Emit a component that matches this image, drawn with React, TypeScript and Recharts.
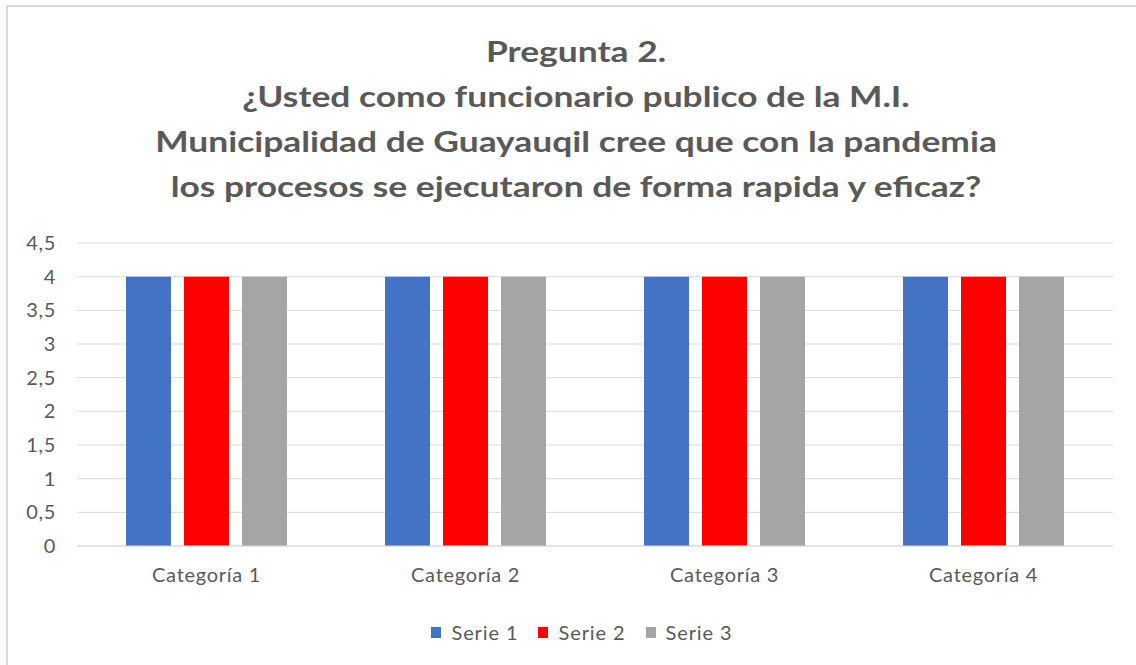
import { BarChart, Bar, XAxis, YAxis, CartesianGrid } from 'recharts';

const categories = ['Categoría 1', 'Categoría 2', 'Categoría 3', 'Categoría 4'];
const serie1 = [4, 4, 4, 4];
const serie2 = [4, 4, 4, 4];
const serie3 = [4, 4, 4, 4];
const yTicks = [0, 0.5, 1, 1.5, 2, 2.5, 3, 3.5, 4, 4.5];
const titleLines = [
  'Pregunta 2.',
  '¿Usted como funcionario publico de la M.I.',
  'Municipalidad de Guayauqil cree que con la pandemia',
  'los procesos se ejecutaron de forma rapida y eficaz?'
];

const series = [
  { key: 'serie1', name: 'Serie 1', color: '#4472c4' },
  { key: 'serie2', name: 'Serie 2', color: '#ff0000' },
  { key: 'serie3', name: 'Serie 3', color: '#a5a5a5' }
];

const font = 'Lato, "Open Sans", sans-serif';
const textColor = '#595959';
const tickStyle = { fill: textColor, fontSize: 20, fontFamily: font, letterSpacing: 0.7 };

export default function App() {
  const data = categories.map((name, i) => ({
    name,
    serie1: serie1[i],
    serie2: serie2[i],
    serie3: serie3[i]
  }));

  return (
    <div
      style={{
        position: 'absolute',
        left: 6,
        top: 5,
        width: 1140,
        height: 670,
        border: '2px solid #d9d9d9',
        boxSizing: 'border-box',
        background: '#fff',
        fontFamily: font,
        overflow: 'hidden'
      }}
    >
      <div
        style={{
          position: 'absolute',
          top: 21,
          left: 0,
          width: 1136,
          textAlign: 'center',
          color: textColor,
          fontWeight: 700,
          fontSize: 29,
          lineHeight: '45px',
          transform: 'scaleX(1.22)',
          transformOrigin: 'center'
        }}
      >
        {titleLines.map(line => (
          <div key={line}>{line}</div>
        ))}
      </div>
      <div style={{ position: 'absolute', top: 0, left: 0 }}>
        <BarChart
          width={1136}
          height={580}
          data={data}
          margin={{ top: 236, right: 31, bottom: 0, left: 0 }}
          barCategoryGap={49}
          barGap={13}
        >
          <CartesianGrid vertical={false} stroke="#d9d9d9" strokeWidth={1} />
          <XAxis
            dataKey="name"
            height={41}
            axisLine={{ stroke: '#d9d9d9' }}
            tickLine={false}
            tickSize={0}
            tickMargin={22}
            tick={tickStyle}
          />
          <YAxis
            width={69}
            domain={[0, 4.5]}
            ticks={yTicks}
            interval={0}
            axisLine={false}
            tickLine={false}
            tickSize={0}
            tickMargin={21}
            tick={tickStyle}
            tickFormatter={(v: number) => String(v).replace('.', ',')}
          />
          {series.map(s => (
            <Bar key={s.key} dataKey={s.key} name={s.name} fill={s.color} isAnimationActive={false} />
          ))}
        </BarChart>
      </div>
      <div
        style={{
          position: 'absolute',
          top: 612,
          left: 6,
          width: 1136,
          display: 'flex',
          justifyContent: 'center',
          gap: 20,
          color: textColor,
          fontSize: 20,
          letterSpacing: 0.9,
          lineHeight: '26px'
        }}
      >
        {series.map(s => (
          <div key={s.key} style={{ display: 'flex', alignItems: 'center', gap: 10 }}>
            <span style={{ display: 'inline-block', width: 10, height: 11, background: s.color }} />
            <span>{s.name}</span>
          </div>
        ))}
      </div>
    </div>
  );
}
